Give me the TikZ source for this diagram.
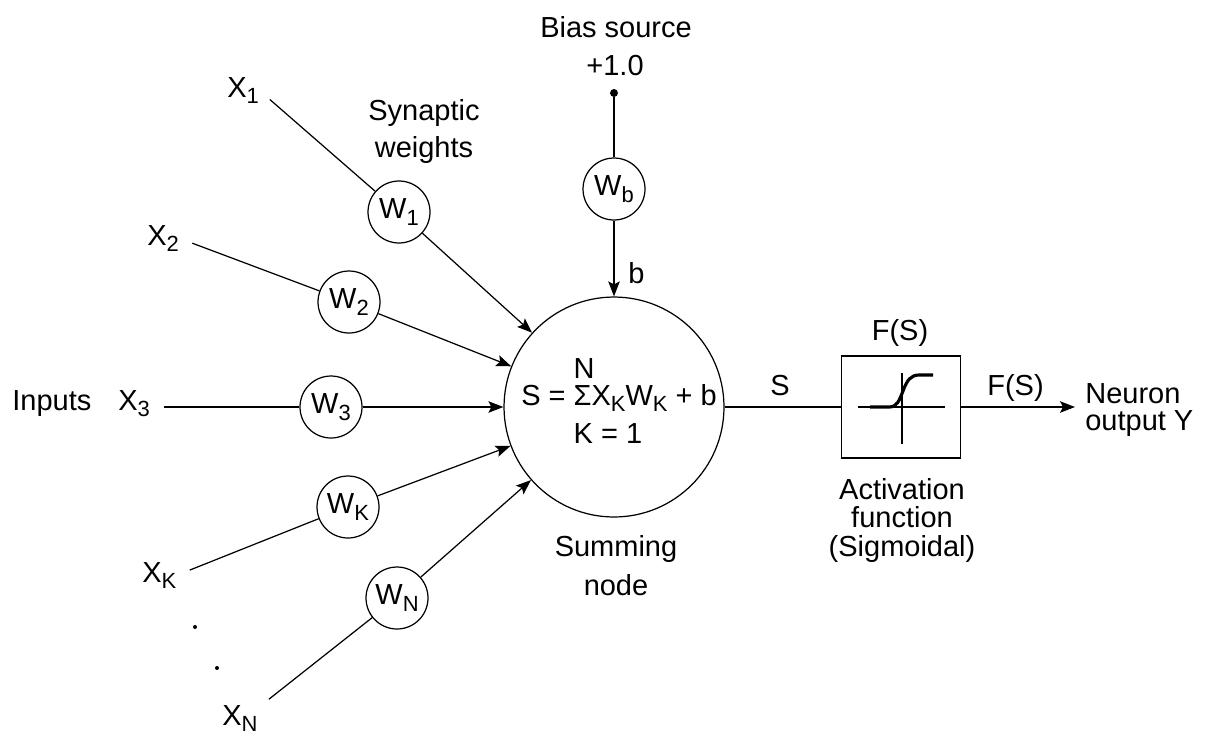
\documentclass[tikz,border=0pt]{standalone}
\usepackage{fontspec}
\setmainfont{Liberation Sans}
\usetikzlibrary{arrows.meta,calc}

% lowered index, as in X_1
\newcommand{\lowidx}[1]{\raisebox{-0.13cm}{\fontsize{12.5}{14}\selectfont #1}}

\begin{document}
\begin{tikzpicture}[
  x=0.02cm, y=-0.02cm, >=Stealth,
  font=\fontsize{16.5}{20}\selectfont,
  lbl/.style={inner sep=0pt, anchor=base west},
  wgt/.style={circle, draw, line width=0.7pt, minimum size=1.24cm, inner sep=0pt},
  wire/.style={draw, line width=0.7pt},
  feed/.style={wire, shorten <=0.28cm},
  line/.style={draw, line width=0.7pt, -{Stealth[length=3mm, width=2.3mm, inset=0.6mm]}}
]
  \useasboundingbox (0,0) rectangle (1206,738);

  % ==================== INPUTS ====================
  \node[lbl] (inputs) at (12, 410) {Inputs};
  \node[lbl] (x1) at (227, 97) {X\lowidx{1}};
  \node[lbl] (x2) at (147, 245) {X\lowidx{2}};
  \node[lbl] (x3) at (118, 410) {X\lowidx{3}};
  \node[lbl] (xk) at (142, 582) {X\lowidx{K}};
  \node[lbl] (xn) at (222, 725) {X\lowidx{N}};
  \node[circle, fill, inner sep=0pt, minimum size=0.08cm] (dota) at (195, 627) {};
  \node[circle, fill, inner sep=0pt, minimum size=0.08cm] (dotb) at (217, 668) {};

  % ==================== SYNAPTIC WEIGHTS ====================
  \node[wgt] (w1) at (399, 212) {W\lowidx{1}};
  \node[wgt] (w2) at (349, 302) {W\lowidx{2}};
  \node[wgt] (w3) at (331, 407) {W\lowidx{3}};
  \node[wgt] (wk) at (348, 507) {W\lowidx{K}};
  \node[wgt] (wn) at (397, 598) {W\lowidx{N}};
  \node[align=center, anchor=base, font=\fontsize{16.5}{21}\selectfont] (synlbl) at (424, 157) {Synaptic\\weights};

  % ==================== BIAS ====================
  \node[anchor=base] (biaslbl) at (616, 37) {Bias source};
  \node[anchor=base] (biasval) at (615, 75) {+1.0};
  \node[circle, fill, inner sep=0pt, minimum size=0.16cm] (biasdot) at (614, 93) {};
  \node[wgt] (wb) at (614, 189) {W\lowidx{b}};
  \node[lbl] (blbl) at (628, 283) {b};

  % ==================== SUMMING NODE ====================
  \node[circle, draw, line width=0.7pt, minimum size=4.4cm] (sum) at (614, 407) {};
  \node[anchor=base, inner sep=0pt] (sumeq) at (619, 405)
    {S = \rlap{\raisebox{0.54cm}{N}}\rlap{\raisebox{-0.76cm}{K = 1}}ΣX\lowidx{K}W\lowidx{K} + b};
  \node[align=center, anchor=base, font=\fontsize{16.5}{22}\selectfont] (sumlbl) at (616, 595) {Summing\\node};

  % ==================== ACTIVATION ====================
  \node[lbl] (slbl) at (770, 395) {S};
  \node[rectangle, draw, line width=0.7pt, minimum width=2.38cm, minimum height=2.04cm] (act) at (901, 407) {};
  \node[anchor=base] (fstop) at (900, 340) {F(S)};
  \node[lbl] (fsout) at (987, 395) {F(S)};
  \node[align=center, anchor=base, font=\fontsize{16.5}{16}\selectfont] (actlbl) at (902, 556) {Activation\\function\\(Sigmoidal)};
  \node[align=left, anchor=west, inner sep=0pt, font=\fontsize{16.5}{15}\selectfont] (yout) at (1085, 410) {Neuron\\output Y};

  % sigmoid sketch
  \draw[line width=0.7pt, shift={(act.center)}] (-43,0) -- (44,0) (1,-34) -- (1,37);
  \draw[line width=1.8pt, shift={(act.center)}] (-31,0) -- (-12,0)
    .. controls (-4,0) and (-2,-6) .. (2,-16)
    .. controls (6,-27) and (10,-32) .. (18,-32) -- (32,-32);

  % ==================== CONNECTORS ====================
  \draw[feed] (x1.east) -- (w1);
  \draw[feed] (x2.east) -- (w2);
  \draw[feed] (x3.east |- w3) -- (w3);
  \draw[feed] (xk.east) -- (wk);
  \draw[feed] (xn.30) -- (wn);
  \foreach \w in {w1,w2,w3,wk,wn}
    \draw[line] (\w) -- (sum);

  \draw[wire] (biasdot) -- (wb);
  \draw[line] (wb) -- (sum);

  \draw[wire] (sum) -- (act);
  \draw[line, shorten >=0.2cm] (act) -- (yout.west |- act);

\end{tikzpicture}
\end{document}
